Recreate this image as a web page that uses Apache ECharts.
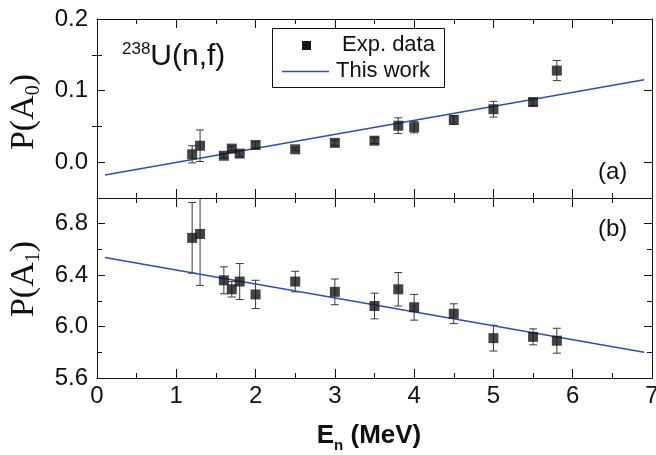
<!DOCTYPE html>
<html>
<head>
<meta charset="utf-8">
<script src="https://cdn.jsdelivr.net/npm/echarts@6/dist/echarts.min.js"></script>
<style>
html,body{margin:0;padding:0;background:#fff;}
#c{width:656px;height:455px;}
</style>
</head>
<body>
<div id="c"></div>
<script>
// ---- data ----
var energies = [1.2, 1.3, 1.6, 1.7, 1.8, 2.0, 2.5, 3.0, 3.5, 3.8, 4.0, 4.5, 5.0, 5.5, 5.8];
var a0Values = [0.011, 0.023, 0.009, 0.019, 0.012, 0.024, 0.018, 0.027, 0.030, 0.051, 0.049, 0.059, 0.074, 0.084, 0.128];
var a0Errors = [0.012, 0.022, 0.003, 0.003, 0.004, 0.004, 0.002, 0.004, 0.004, 0.011, 0.008, 0.006, 0.011, 0.005, 0.014];
var a1Values = [6.69, 6.72, 6.36, 6.29, 6.35, 6.25, 6.35, 6.27, 6.16, 6.29, 6.15, 6.10, 5.91, 5.92, 5.89];
var a1Errors = [0.275, 0.40, 0.105, 0.06, 0.14, 0.11, 0.08, 0.10, 0.10, 0.13, 0.10, 0.077, 0.10, 0.062, 0.097];
var fitX = [0.1, 6.9];
var fitA0 = [-0.018, 0.115];
var fitA1 = [6.538, 5.800];
var xTicks = [0, 1, 2, 3, 4, 5, 6, 7];
var a0TickValues = [0.0, 0.1, 0.2];
var a0MinorTickValues = [0.05, 0.15];
var a1TickValues = [5.6, 6.0, 6.4, 6.8];

function zip3(x, y, e) { return x.map(function (v, i) { return [v, y[i], e[i]]; }); }
function zip2(x, y) { return x.map(function (v, i) { return [v, y[i]]; }); }

var FONT = 'Liberation Sans, Arial, sans-serif';
var SERIF = 'Liberation Serif, Times New Roman, serif';
var BLACK = '#111';

function errRender(params, api) {
  var x = api.value(0), y = api.value(1), e = api.value(2);
  var top = api.coord([x, y + e]);
  var bot = api.coord([x, y - e]);
  var w = 4;
  var st = { stroke: '#3a3a3a', lineWidth: 1 };
  return {
    type: 'group',
    children: [
      { type: 'line', shape: { x1: top[0], y1: top[1], x2: bot[0], y2: bot[1] }, style: st },
      { type: 'line', shape: { x1: top[0] - w, y1: top[1], x2: top[0] + w, y2: top[1] }, style: st },
      { type: 'line', shape: { x1: bot[0] - w, y1: bot[1], x2: bot[0] + w, y2: bot[1] }, style: st }
    ]
  };
}

function xAxisDef(gridIndex, position, showLabel) {
  return {
    type: 'value', gridIndex: gridIndex, position: position,
    min: 0, max: 7, interval: 1,
    axisLine: { show: true, onZero: false, lineStyle: { color: BLACK, width: 1 } },
    axisTick: { show: true, inside: true, length: 9, lineStyle: { color: BLACK } },
    minorTick: { show: true, splitNumber: 2, length: 5, lineStyle: { color: BLACK } },
    axisLabel: { show: showLabel, margin: 6, fontFamily: FONT, fontSize: 24, color: BLACK, hideOverlap: false },
    splitLine: { show: false }
  };
}

var chart = echarts.init(document.getElementById('c'), null, { renderer: 'canvas' });

var option = {
  backgroundColor: '#fff',
  animation: false,
  grid: [
    { left: 97, right: 4, top: 19, height: 179, outerBoundsMode: 'none', containLabel: false },
    { left: 97, right: 4, top: 198, height: 180, outerBoundsMode: 'none', containLabel: false }
  ],
  xAxis: [
    xAxisDef(0, 'bottom', false),
    xAxisDef(0, 'top', false),
    xAxisDef(1, 'bottom', true),
    xAxisDef(1, 'top', false)
  ],
  yAxis: [
    // top panel, left, major
    { type: 'value', gridIndex: 0, position: 'left', min: -0.05, max: 0.2, interval: 0.05,
      axisLine: { show: true, onZero: false, lineStyle: { color: BLACK } },
      axisTick: { show: true, inside: true, length: 8, customValues: a0TickValues, lineStyle: { color: BLACK } },
      axisLabel: { show: true, margin: 9, customValues: a0TickValues, fontFamily: FONT, fontSize: 24, color: BLACK,
        formatter: function (v) { return v.toFixed(1); } },
      splitLine: { show: false } },
    // top panel, left, minor
    { type: 'value', gridIndex: 0, position: 'left', min: -0.05, max: 0.2, interval: 0.05,
      axisLine: { show: false },
      axisTick: { show: true, inside: true, length: 5, customValues: a0MinorTickValues, lineStyle: { color: BLACK } },
      axisLabel: { show: false }, splitLine: { show: false } },
    // top panel, right, major
    { type: 'value', gridIndex: 0, position: 'right', min: -0.05, max: 0.2, interval: 0.05,
      axisLine: { show: true, onZero: false, lineStyle: { color: BLACK } },
      axisTick: { show: true, inside: true, length: 8, customValues: a0TickValues, lineStyle: { color: BLACK } },
      axisLabel: { show: false }, splitLine: { show: false } },
    // top panel, right, minor
    { type: 'value', gridIndex: 0, position: 'right', min: -0.05, max: 0.2, interval: 0.05,
      axisLine: { show: false },
      axisTick: { show: true, inside: true, length: 5, customValues: a0MinorTickValues, lineStyle: { color: BLACK } },
      axisLabel: { show: false }, splitLine: { show: false } },
    // bottom panel, left
    { type: 'value', gridIndex: 1, position: 'left', min: 5.6, max: 7.0, interval: 0.4,
      axisLine: { show: true, onZero: false, lineStyle: { color: BLACK } },
      axisTick: { show: true, inside: true, length: 8, lineStyle: { color: BLACK } },
      minorTick: { show: true, splitNumber: 2, length: 5, lineStyle: { color: BLACK } },
      axisLabel: { show: true, margin: 9, fontFamily: FONT, fontSize: 24, color: BLACK,
        showMaxLabel: false,
        formatter: function (v) { return v.toFixed(1); } },
      splitLine: { show: false } },
    // bottom panel, right
    { type: 'value', gridIndex: 1, position: 'right', min: 5.6, max: 7.0, interval: 0.4,
      axisLine: { show: true, onZero: false, lineStyle: { color: BLACK } },
      axisTick: { show: true, inside: true, length: 8, lineStyle: { color: BLACK } },
      minorTick: { show: true, splitNumber: 2, length: 5, lineStyle: { color: BLACK } },
      axisLabel: { show: false }, splitLine: { show: false } }
  ],
  series: [
    { name: 'errA0', type: 'custom', xAxisIndex: 0, yAxisIndex: 0, clip: true, z: 2,
      renderItem: errRender, data: zip3(energies, a0Values, a0Errors) },
    { name: 'This work', type: 'line', xAxisIndex: 0, yAxisIndex: 0, z: 3,
      data: zip2(fitX, fitA0), showSymbol: false, lineStyle: { color: '#3050a8', width: 1.5 } },
    { name: 'Exp. data', type: 'scatter', xAxisIndex: 0, yAxisIndex: 0, z: 4,
      symbol: 'rect', symbolSize: 10, itemStyle: { color: '#151515' },
      data: zip2(energies, a0Values) },
    { name: 'errA1', type: 'custom', xAxisIndex: 2, yAxisIndex: 4, clip: true, z: 2,
      renderItem: errRender, data: zip3(energies, a1Values, a1Errors) },
    { name: 'fitA1', type: 'line', xAxisIndex: 2, yAxisIndex: 4, z: 3,
      data: zip2(fitX, fitA1), showSymbol: false, lineStyle: { color: '#3050a8', width: 1.5 } },
    { name: 'expA1', type: 'scatter', xAxisIndex: 2, yAxisIndex: 4, z: 4,
      symbol: 'rect', symbolSize: 10, itemStyle: { color: '#151515' },
      data: zip2(energies, a1Values) }
  ],
  graphic: [
    // legend box
    { type: 'rect', left: 272, top: 28, shape: { width: 172, height: 59 },
      style: { fill: '#fff', stroke: BLACK, lineWidth: 1 }, z: 10 },
    { type: 'rect', shape: { x: 302, y: 41, width: 9, height: 9 }, style: { fill: '#151515' }, z: 11 },
    { type: 'line', shape: { x1: 282, y1: 71.5, x2: 329, y2: 71.5 }, style: { stroke: '#3050a8', lineWidth: 1.5 }, z: 11 },
    { type: 'text', x: 342, y: 45, z: 11,
      style: { text: 'Exp. data', font: '22px ' + FONT, fill: BLACK, textVerticalAlign: 'middle' } },
    { type: 'text', x: 336, y: 71, z: 11,
      style: { text: 'This work', font: '22px ' + FONT, fill: BLACK, textVerticalAlign: 'middle' } },
    // reaction label
    { type: 'text', x: 122, y: 57, z: 11,
      style: { text: '{sup|238}{m|U(n,f)}', textVerticalAlign: 'middle',
        rich: { sup: { fontFamily: FONT, fontSize: 17, fill: BLACK, verticalAlign: 'top', lineHeight: 32 },
                m: { fontFamily: FONT, fontSize: 30, fill: BLACK, lineHeight: 32 } } } },
    // panel labels
    { type: 'text', x: 598, y: 172, z: 11,
      style: { text: '(a)', font: '24px ' + FONT, fill: BLACK, textVerticalAlign: 'middle' } },
    { type: 'text', x: 598, y: 229, z: 11,
      style: { text: '(b)', font: '24px ' + FONT, fill: BLACK, textVerticalAlign: 'middle' } },
    // y titles
    { type: 'text', x: 24, y: 112, rotation: Math.PI / 2, z: 11,
      style: { text: '{a|P(A}{s|0}{a|)}', textAlign: 'center', textVerticalAlign: 'middle',
        rich: { a: { fontFamily: SERIF, fontSize: 34, fill: BLACK, lineHeight: 40 },
                s: { fontFamily: SERIF, fontSize: 20, fill: BLACK, lineHeight: 40, verticalAlign: 'bottom' } } } },
    { type: 'text', x: 24, y: 279, rotation: Math.PI / 2, z: 11,
      style: { text: '{a|P(A}{s|1}{a|)}', textAlign: 'center', textVerticalAlign: 'middle',
        rich: { a: { fontFamily: SERIF, fontSize: 34, fill: BLACK, lineHeight: 40 },
                s: { fontFamily: SERIF, fontSize: 20, fill: BLACK, lineHeight: 40, verticalAlign: 'bottom' } } } },
    // x title
    { type: 'text', x: 369, y: 436, z: 11,
      style: { text: '{b|E}{s|n}{b| (MeV)}', textAlign: 'center', textVerticalAlign: 'middle',
        rich: { b: { fontFamily: FONT, fontSize: 26, fontWeight: 'bold', fill: BLACK, lineHeight: 30 },
                s: { fontFamily: FONT, fontSize: 15, fontWeight: 'bold', fill: BLACK, lineHeight: 34, verticalAlign: 'bottom' } } } }
  ]
};
chart.setOption(option);
</script>
</body>
</html>
